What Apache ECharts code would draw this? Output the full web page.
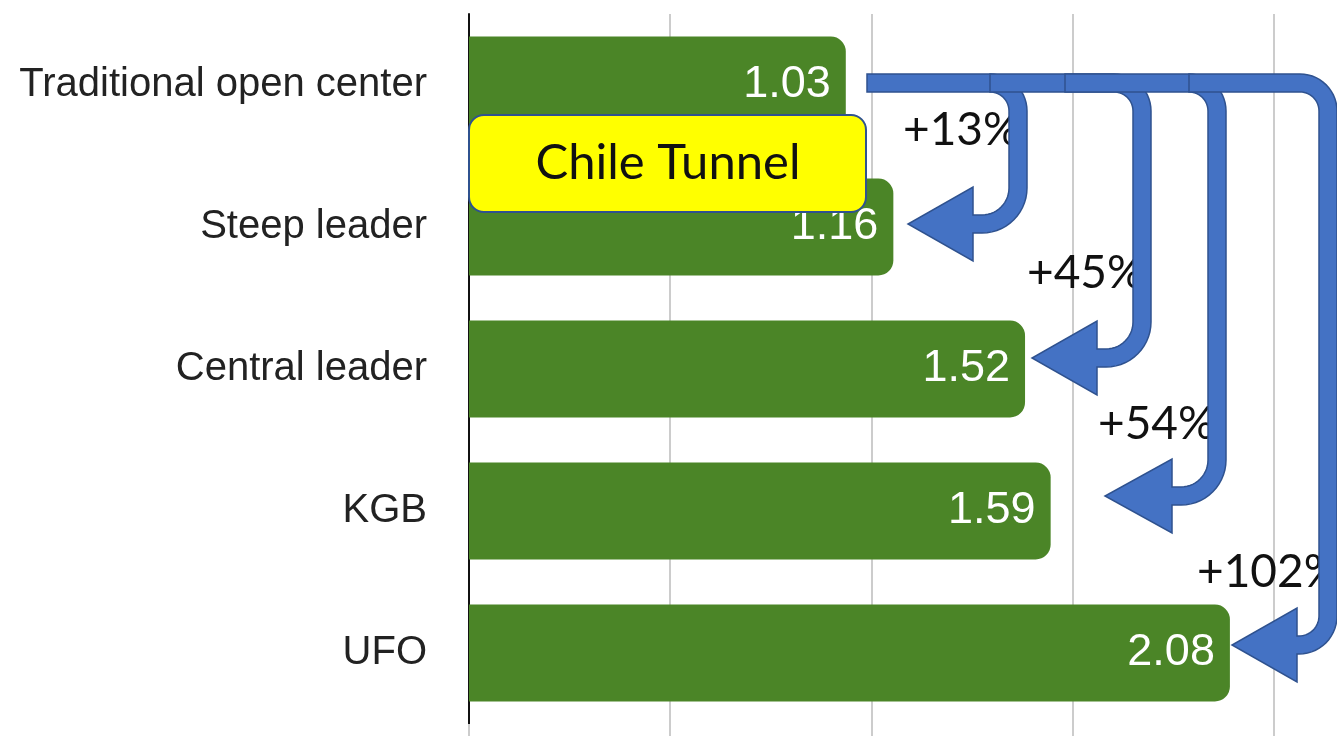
<!DOCTYPE html>
<html lang="en">
<head>
    <meta charset="UTF-8">
    <title>Training system yield</title>
    <style>
        html, body {margin: 0; padding: 0; background: #fff; overflow: hidden;}
        /* canvas runs past the window edge so the axis scale continues beyond it */
        #main {width: 1475px; height: 739px;}
    </style>
</head>
<body>
<div id="main"></div>
<script type="text/javascript" src="https://cdn.jsdelivr.net/npm/echarts@6/dist/echarts.min.js"></script>
<script>
    // data
    var categories = ['Traditional open center', 'Steep leader', 'Central leader', 'KGB', 'UFO'];
    var values = [1.03, 1.16, 1.52, 1.59, 2.08];
    var gains = ['+13%', '+45%', '+54%', '+102%'];

    // annotation layout (pixels): arrow start x, vertical x, head base x, tip x, tip y, label x, label y
    var arrowStart = [867, 990, 1065, 1189];
    var arrowVert = [1018, 1142, 1217, 1328];
    var arrowBase = [973, 1097, 1172, 1297];
    var arrowTip = [908, 1032, 1105, 1232];
    var arrowTipY = [224, 358, 496, 645];
    var gainX = [903, 1027, 1098, 1197];
    var gainY = [130, 273, 424, 572];

    var chart = echarts.init(document.getElementById('main'));

    // outline of a bent arrow: along the top, down, then back left to a head
    function arrowPoints(xs, xv, xb, tip, yt) {
        var y0 = 83, h = 9, hw = 37, R1 = 28;
        var R2 = Math.min(36, xv - xb - 2);
        var pts = [], a, i, n = 14;
        pts.push([xs, y0 - h]);
        for (i = 0; i <= n; i++) {
            a = -Math.PI / 2 + (Math.PI / 2) * i / n;
            pts.push([xv - R1 + (R1 + h) * Math.cos(a), y0 + R1 + (R1 + h) * Math.sin(a)]);
        }
        for (i = 0; i <= n; i++) {
            a = (Math.PI / 2) * i / n;
            pts.push([xv - R2 + (R2 + h) * Math.cos(a), yt - R2 + (R2 + h) * Math.sin(a)]);
        }
        pts.push([xb, yt + h]);
        pts.push([xb, yt + hw]);
        pts.push([tip, yt]);
        pts.push([xb, yt - hw]);
        pts.push([xb, yt - h]);
        for (i = n; i >= 0; i--) {
            a = (Math.PI / 2) * i / n;
            pts.push([xv - R2 + (R2 - h) * Math.cos(a), yt - R2 + (R2 - h) * Math.sin(a)]);
        }
        for (i = n; i >= 0; i--) {
            a = -Math.PI / 2 + (Math.PI / 2) * i / n;
            pts.push([xv - R1 + (R1 - h) * Math.cos(a), y0 + R1 + (R1 - h) * Math.sin(a)]);
        }
        pts.push([xs, y0 + h]);
        return pts;
    }

    var elements = [];
    // yellow label box
    elements.push({
        type: 'rect', z: 100,
        shape: {x: 469, y: 115, width: 397, height: 97, r: 15},
        style: {fill: '#ffff00', stroke: '#2f528f', lineWidth: 2}
    });
    elements.push({
        type: 'text', z: 101, x: 668, y: 163,
        style: {text: 'Chile Tunnel', fontFamily: 'Lato', fontSize: 49, fill: '#111', align: 'center', verticalAlign: 'middle'}
    });
    for (var i = 0; i < gains.length; i++) {
        elements.push({
            type: 'text', z: 102, x: gainX[i], y: gainY[i],
            style: {text: gains[i], fontFamily: 'Lato', fontSize: 46, fill: '#111', align: 'left', verticalAlign: 'middle'}
        });
    }
    for (var j = 0; j < arrowStart.length; j++) {
        elements.push({
            type: 'polygon', z: 110 + j,
            shape: {points: arrowPoints(arrowStart[j], arrowVert[j], arrowBase[j], arrowTip[j], arrowTipY[j])},
            style: {fill: '#4472c4', stroke: '#2f528f', lineWidth: 1.5}
        });
    }

    var option = {
        animation: false,
        grid: {left: 469, right: 0, top: 14, bottom: 15},
        xAxis: {
            type: 'value', min: 0, max: 2.75, interval: 0.55,
            axisLine: {show: false},
            axisTick: {show: true, length: 12, lineStyle: {color: '#cccccc', width: 2}},
            axisLabel: {show: false},
            splitLine: {show: true, lineStyle: {color: '#cccccc', width: 2}}
        },
        yAxis: {
            type: 'category', inverse: true, data: categories,
            axisLine: {show: true, lineStyle: {color: '#111', width: 2}},
            axisTick: {show: false},
            axisLabel: {margin: 42, fontSize: 40, color: '#222', fontFamily: 'Liberation Sans'}
        },
        series: [{
            type: 'bar',
            data: values,
            barWidth: 97,
            itemStyle: {color: '#4b8527', borderRadius: [0, 15, 15, 0]},
            label: {
                show: true, position: 'insideRight', distance: 15,
                color: '#fff', fontSize: 45, fontFamily: 'Liberation Sans',
                formatter: function (p) { return p.value.toFixed(2); }
            }
        }],
        graphic: {elements: elements}
    };
    chart.setOption(option);
</script>
</body>
</html>
